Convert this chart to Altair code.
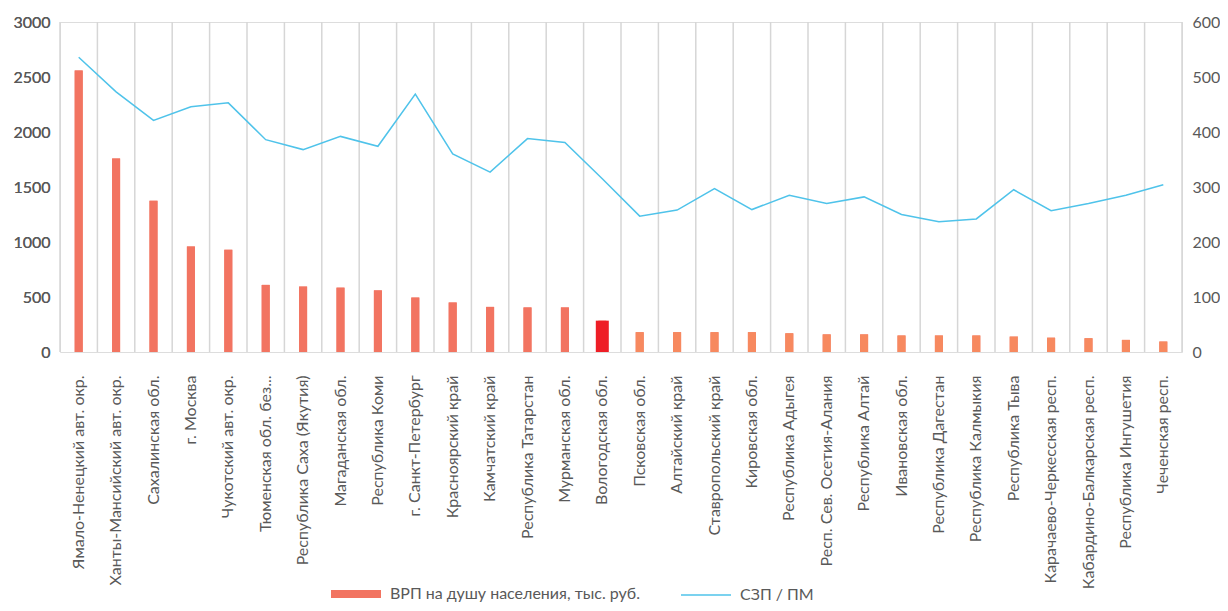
import altair as alt
import pandas as pd

regions = [
    "Ямало-Ненецкий авт. окр.", "Ханты-Мансийский авт. окр.", "Сахалинская обл.",
    "г. Москва", "Чукотский авт. окр.", "Тюменская обл. без...",
    "Республика Саха (Якутия)", "Магаданская обл.", "Республика Коми",
    "г. Санкт-Петербург", "Красноярский край", "Камчатский край",
    "Республика Татарстан", "Мурманская обл.", "Вологодская обл.",
    "Псковская обл.", "Алтайский край", "Ставропольский край", "Кировская обл.",
    "Республика Адыгея", "Респ. Сев. Осетия-Алания", "Республика Алтай",
    "Ивановская обл.", "Республика Дагестан", "Республика Калмыкия",
    "Республика Тыва", "Карачаево-Черкесская респ.", "Кабардино-Балкарская респ.",
    "Республика Ингушетия", "Чеченская респ.",
]
grp_per_capita = [2560, 1760, 1375, 960, 930, 610, 595, 585, 560, 495, 450, 410, 405, 405,
                  285, 180, 180, 180, 180, 170, 160, 160, 150, 150, 150, 140, 130, 125, 110, 95]
wage_ratio = [536, 473, 421, 446, 453, 386, 368, 392, 374, 469, 360, 327, 388, 381,
              315, 247, 258, 297, 259, 285, 270, 282, 250, 237, 242, 295, 257, 270, 285, 304]
highlight = "Вологодская обл."
bar_label = "ВРП на душу населения, тыс. руб."
line_label = "СЗП / ПМ"

hi = regions.index(highlight)
df = pd.DataFrame({
    "region": regions,
    "grp": grp_per_capita,
    "ratio": wage_ratio,
    "group": ["top" if i < hi else ("hl" if i == hi else "rest") for i in range(len(regions))],
    "bar_series": bar_label,
    "line_series": line_label,
})

FONT = "Lato"
GRAY = "#595959"
W, H = 1122, 330

x_axis = alt.Axis(title=None, labelAngle=270, labelAlign="right", labelBaseline="middle",
                  labelFontSize=16, labelColor=GRAY, labelFont=FONT, ticks=False,
                  domain=False, grid=False, labelPadding=23, labelLimit=400)
xscale = alt.Scale(paddingInner=0, paddingOuter=0)
xenc = alt.X("region:N", sort=None, axis=x_axis, scale=xscale)

base = alt.Chart(df)

grid = base.mark_rule(color="#D6D6D6", strokeWidth=1.5).encode(
    x=alt.X("region:N", sort=None, axis=x_axis, bandPosition=0, scale=xscale)
)
grid_end = base.transform_filter(alt.datum.region == regions[-1]).mark_rule(
    color="#D6D6D6", strokeWidth=1.5).encode(
    x=alt.X("region:N", sort=None, axis=x_axis, bandPosition=1, scale=xscale)
)

yleft = alt.Y("grp:Q", scale=alt.Scale(domain=[0, 3000], nice=False),
              axis=alt.Axis(title=None, values=list(range(0, 3001, 500)), orient="left",
                            format="d", grid=False, ticks=False, domain=False,
                            labelFontSize=16, labelColor=GRAY, labelFont=FONT,
                            labelPadding=10))

bars_legend = base.mark_bar(size=8).encode(
    x=xenc,
    y=yleft,
    color=alt.Color("bar_series:N", scale=alt.Scale(range=["#F27461"]),
                    legend=alt.Legend(title=None, orient="none", legendX=271, legendY=547,
                                      symbolType="M-1,-0.16L1,-0.16L1,0.16L-1,0.16Z",
                                      symbolSize=2500, symbolStrokeWidth=0,
                                      labelFontSize=16, labelColor=GRAY, labelFont=FONT,
                                      labelOffset=9, labelLimit=400, padding=0)),
)

bars = base.mark_bar().encode(
    x=xenc,
    y=yleft,
    fill=alt.Fill("group:N", scale=alt.Scale(domain=["top", "hl", "rest"],
                                             range=["#F27461", "#EE1E26", "#F7895F"]),
                  legend=None),
    size=alt.condition(alt.datum.region == highlight, alt.value(13), alt.value(8)),
)

line = base.mark_line(strokeWidth=1.5).encode(
    x=xenc,
    y=alt.Y("ratio:Q", scale=alt.Scale(domain=[0, 600], nice=False),
            axis=alt.Axis(title=None, values=list(range(0, 601, 100)), orient="right",
                          format="d", grid=False, ticks=False, domain=False,
                          labelFontSize=16, labelColor=GRAY, labelFont=FONT,
                          labelPadding=10)),
    stroke=alt.Stroke("line_series:N", scale=alt.Scale(range=["#4FC3EA"]),
                      legend=alt.Legend(title=None, orient="none", legendX=620, legendY=547,
                                        symbolType="stroke", symbolSize=2500,
                                        symbolStrokeWidth=1.5,
                                        labelFontSize=16, labelColor=GRAY, labelFont=FONT,
                                        labelOffset=8, labelLimit=400, padding=0)),
)

chart = alt.layer(grid, grid_end, bars_legend, bars, line).resolve_scale(
    y="independent"
).properties(
    width=W, height=H,
    autosize=alt.AutoSizeParams(type="none"),
    padding={"left": 52, "top": 14, "right": 38, "bottom": 251},
).configure_view(stroke=None).configure(font=FONT)

chart.save("out.html", embed_options={"renderer": "svg", "actions": False})
